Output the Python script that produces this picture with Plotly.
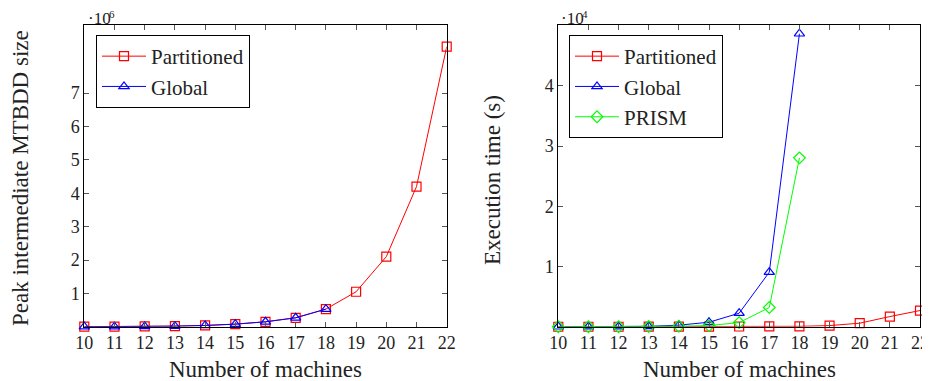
import plotly.graph_objects as go

machines = [10, 11, 12, 13, 14, 15, 16, 17, 18, 19, 20, 21, 22]

# Left: peak intermediate MTBDD size
size_partitioned = [3e3, 5e3, 1e4, 2e4, 4e4, 8e4, 1.5e5, 2.7e5, 5.3e5, 1.05e6, 2.1e6, 4.2e6, 8.39e6]
size_global_x = [10, 11, 12, 13, 14, 15, 16, 17, 18]
size_global = [3e3, 5e3, 1e4, 2e4, 4e4, 8e4, 1.5e5, 2.7e5, 5.3e5]

# Right: execution time (s)
time_partitioned = [5, 8, 12, 20, 30, 40, 50, 60, 80, 200, 600, 1700, 2700]
time_global_x = [10, 11, 12, 13, 14, 15, 16, 17, 18]
time_global = [10, 15, 30, 80, 270, 760, 2260, 9070, 48650]
time_prism_x = [10, 11, 12, 13, 14, 15, 16, 17, 18]
time_prism = [10, 12, 20, 40, 100, 200, 700, 3200, 28050]

left_ticks = [1e6, 2e6, 3e6, 4e6, 5e6, 6e6, 7e6]
left_ticktext = ["1", "2", "3", "4", "5", "6", "7"]
right_ticks = [1e4, 2e4, 3e4, 4e4]
right_ticktext = ["1", "2", "3", "4"]

FONT = "Liberation Serif, DejaVu Serif, serif"
RED = "#ff0000"
BLUE = "#0000ff"
GREEN = "#00ff00"
TXT = "#222222"

# page body has an 8px margin; figure starts at (8, 8) in the window
OFF = 8
FW, FH = 930 - OFF, 381 - OFF


def fx(sx):
    return (sx - OFF) / FW


def fy(sy):
    return 1 - (sy - OFF) / FH


fig = go.Figure()


def add(x, y, name, color, symbol, xa, ya, show):
    fig.add_trace(go.Scatter(
        x=x, y=y, name=name, mode="lines+markers",
        line=dict(color=color, width=1),
        marker=dict(symbol=symbol, size=9, color=color,
                    line=dict(color=color, width=1.2)),
        xaxis=xa, yaxis=ya, legend=show, cliponaxis=False))


add(machines, size_partitioned, "Partitioned", RED, "square-open", "x", "y", "legend")
add(size_global_x, size_global, "Global", BLUE, "triangle-up-open", "x", "y", "legend")
add(machines, time_partitioned, "Partitioned", RED, "square-open", "x2", "y2", "legend2")
add(time_global_x, time_global, "Global", BLUE, "triangle-up-open", "x2", "y2", "legend2")
add(time_prism_x, time_prism, "PRISM", GREEN, "diamond-open", "x2", "y2", "legend2")

top, bottom = 25, 326.8
ydom = [fy(bottom), fy(top)]

xcommon = dict(range=[10, 22], tickvals=machines, ticks="inside", ticklen=5,
               tickcolor="#555555", showline=True, linecolor="black", linewidth=1,
               mirror="ticks", showgrid=False, zeroline=False, automargin=False,
               tickfont=dict(family=FONT, size=18, color=TXT))
ycommon = dict(ticks="inside", ticklen=5, tickcolor="#555555", showline=True,
               linecolor="black", linewidth=1, mirror="ticks", showgrid=False,
               zeroline=False, automargin=False, tickfont=dict(family=FONT, size=18, color=TXT))

legend_common = dict(bgcolor="white", bordercolor="black", borderwidth=1,
                     font=dict(family=FONT, size=21, color=TXT),
                     xanchor="left", yanchor="top", itemwidth=44, tracegroupgap=0)


def label(text, sx, sy, angle=0, size=23, anchor="center"):
    return dict(text=text, xref="paper", yref="paper", x=fx(sx), y=fy(sy),
                xanchor=anchor, yanchor="middle", showarrow=False, textangle=angle,
                font=dict(family=FONT, size=size, color=TXT))


fig.update_layout(
    width=FW, height=FH, margin=dict(l=0, r=0, t=0, b=0, autoexpand=False),
    plot_bgcolor="white", paper_bgcolor="white",
    xaxis=dict(domain=[fx(84.3), fx(446.7)], anchor="y", **xcommon),
    yaxis=dict(domain=ydom, anchor="x", range=[0, 9.04e6], tickvals=left_ticks,
               ticktext=left_ticktext, **ycommon),
    xaxis2=dict(domain=[fx(558.3), fx(920)], anchor="y2", **xcommon),
    yaxis2=dict(domain=ydom, anchor="x2", range=[0, 5.01e4], tickvals=right_ticks,
                ticktext=right_ticktext, **ycommon),
    legend=dict(x=fx(96), y=fy(35), **legend_common),
    legend2=dict(x=fx(569), y=fy(35), **legend_common),
    annotations=[
        label("Number of machines", 265.5, 369),
        label("Number of machines", 739, 369),
        label("Peak intermediate MTBDD size", 20, 178, angle=-90),
        label("Execution time (s)", 492, 180, angle=-90),
        label("·10", 86, 18, size=17, anchor="left"),
        label("6", 107, 14, size=11, anchor="left"),
        label("·10", 559, 18, size=17, anchor="left"),
        label("4", 580, 14, size=11, anchor="left"),
    ],
)

fig.write_html("out.html")
